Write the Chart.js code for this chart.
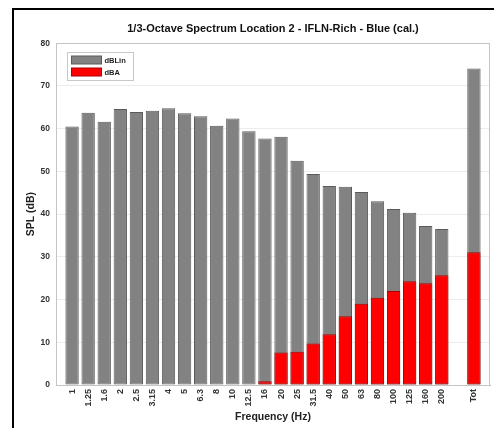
<!DOCTYPE html>
<html>
<head>
<meta charset="utf-8">
<script src="https://cdn.jsdelivr.net/npm/chart.js@4.4.1/dist/chart.umd.min.js"></script>
<style>
html, body { margin: 0; padding: 0; background: #fff; overflow: hidden; }
#wrap { position: relative; width: 494px; height: 428px; overflow: hidden; }
#frame { position: absolute; left: 12px; top: 8px; width: 600px; height: 600px; border-top: 2px solid #000; border-left: 2px solid #000; }
canvas { position: absolute; left: 0; top: 0; }
</style>
</head>
<body>
<div id="wrap">
  <div id="frame"></div>
  <canvas id="chart" width="494" height="428"></canvas>
</div>
<script>
// 1/3-octave bands, padded with blank slots at both ends and before the total
var freqLabels = ['', '1', '1.25', '1.6', '2', '2.5', '3.15', '4', '5', '6.3', '8', '10', '12.5',
  '16', '20', '25', '31.5', '40', '50', '63', '80', '100', '125', '160', '200', '', 'Tot', ''];

var dBLin = [null, 60.5, 63.7, 61.6, 64.6, 63.9, 64.2, 64.8, 63.6, 62.9, 60.7, 62.4, 59.4,
  57.7, 58.1, 52.5, 49.4, 46.6, 46.4, 45.2, 43.0, 41.2, 40.3, 37.2, 36.5, null, 74.1, null];

var dBA = [null, null, null, null, null, null, null, null, null, null, null, null, null,
  0.9, 7.6, 7.8, 9.7, 11.9, 16.1, 19.0, 20.4, 22.0, 24.3, 23.8, 25.7, null, 31.1, null];

var yTicks = [0, 10, 20, 30, 40, 50, 60, 70, 80];

var FONT = 'Liberation Sans, Arial, Helvetica, sans-serif';

var plotBox = {
  id: 'plotBox',
  beforeDatasetsDraw: function(chart) {
    var a = chart.chartArea, ctx = chart.ctx;
    ctx.save();
    ctx.strokeStyle = '#c4c4c4';
    ctx.lineWidth = 1;
    ctx.strokeRect(Math.round(a.left) + 0.5, Math.round(a.top) + 0.5,
      Math.round(a.right - a.left) - 1, Math.round(a.bottom - a.top));
    ctx.restore();
  }
};

var legendBox = {
  id: 'legendBox',
  afterDatasetsDraw: function(chart) {
    var ctx = chart.ctx, a = chart.chartArea;
    var x = Math.round(a.left) + 11.5, y = Math.round(a.top) + 9.5;
    ctx.save();
    ctx.fillStyle = '#fff';
    ctx.strokeStyle = '#c8c8c8';
    ctx.lineWidth = 1;
    ctx.fillRect(x, y, 66, 28);
    ctx.strokeRect(x, y, 66, 28);
    chart.data.datasets.forEach(function(ds, i) {
      var sy = y + 3.5 + i * 12;
      ctx.fillStyle = ds.backgroundColor;
      ctx.fillRect(x + 4, sy, 30, 8);
      ctx.strokeStyle = ds.borderColor;
      ctx.strokeRect(x + 4, sy, 30, 8);
      ctx.fillStyle = '#222';
      ctx.font = 'bold 7.5px ' + FONT;
      ctx.textBaseline = 'middle';
      ctx.textAlign = 'left';
      ctx.fillText(ds.label, x + 37, sy + 4.5);
    });
    ctx.restore();
  }
};

new Chart(document.getElementById('chart'), {
  type: 'bar',
  data: {
    labels: freqLabels,
    datasets: [
      {
        label: 'dBLin',
        data: dBLin,
        backgroundColor: '#828282',
        borderColor: '#5a5a5a',
        borderWidth: 1,
        borderSkipped: false,
        grouped: false,
        order: 2
      },
      {
        label: 'dBA',
        data: dBA,
        backgroundColor: '#ff0000',
        borderColor: '#b00000',
        borderWidth: 1,
        borderSkipped: false,
        grouped: false,
        order: 1
      }
    ]
  },
  options: {
    responsive: false,
    animation: false,
    layout: { padding: { left: 14, right: 4, top: 20, bottom: 2 } },
    plugins: {
      legend: { display: false },
      tooltip: { enabled: false },
      title: {
        display: true,
        fullSize: false,
        text: '1/3-Octave Spectrum Location 2 - IFLN-Rich - Blue (cal.)',
        color: '#111',
        font: { family: FONT, size: 11, weight: 'bold' },
        padding: { top: 2, bottom: 8 }
      }
    },
    datasets: { bar: { barPercentage: 0.83, categoryPercentage: 1 } },
    scales: {
      x: {
        offset: false,
        grid: { display: false, drawTicks: false },
        border: { color: '#b4b4b4' },
        ticks: {
          autoSkip: false,
          minRotation: 90,
          maxRotation: 90,
          padding: 4,
          color: '#333',
          font: { family: FONT, size: 9, weight: 'bold' }
        },
        title: {
          display: true,
          text: 'Frequency (Hz)',
          color: '#222',
          font: { family: FONT, size: 10.5, weight: 'bold' },
          padding: { top: 0, bottom: 3 }
        },
        afterFit: function(scale) {
          scale.height = 41;
          scale.paddingLeft = 0;
          scale.paddingRight = 0;
        }
      },
      y: {
        min: 0,
        max: 80,
        afterBuildTicks: function(scale) {
          scale.ticks = yTicks.map(function(v) { return { value: v }; });
        },
        grid: { color: '#ececec', drawTicks: false },
        border: { color: '#b4b4b4' },
        ticks: {
          padding: 6,
          color: '#333',
          font: { family: FONT, size: 8.5, weight: 'bold' }
        },
        title: {
          display: true,
          text: 'SPL (dB)',
          color: '#222',
          font: { family: FONT, size: 10.5, weight: 'bold' },
          padding: { top: 11, bottom: 0 }
        },
        afterFit: function(scale) { scale.width = 42; }
      }
    }
  },
  plugins: [plotBox, legendBox]
});
</script>
</body>
</html>
